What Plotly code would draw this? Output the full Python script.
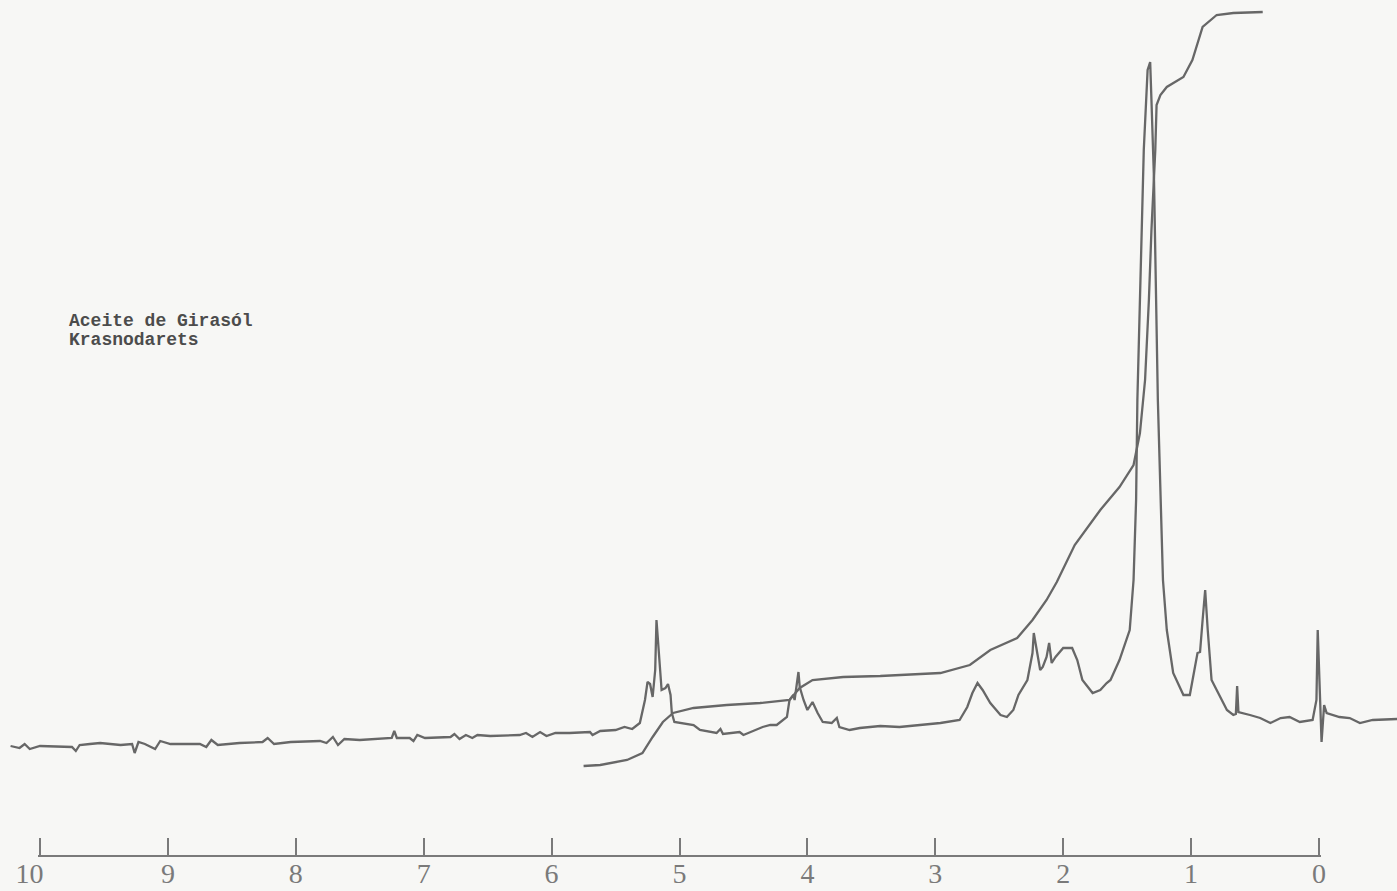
import plotly.graph_objects as go

# 1H NMR spectrum (chemical shift, ppm) and recorder deflection (arbitrary units)
spec_ppm = [10.23, 10.16, 10.12, 10.08, 10.00, 9.84, 9.75, 9.72, 9.69, 9.61, 9.53, 9.37, 9.28, 9.26, 9.23,
            9.18, 9.10, 9.06, 8.98, 8.75, 8.70, 8.66, 8.61, 8.44, 8.26, 8.22, 8.17, 8.04, 7.81, 7.76,
            7.71, 7.67, 7.62, 7.50, 7.34, 7.25, 7.23, 7.21, 7.11, 7.08, 7.05, 6.99, 6.79, 6.76, 6.72,
            6.67, 6.62, 6.58, 6.48, 6.25, 6.20, 6.15, 6.09, 6.04, 5.97, 5.86, 5.70, 5.68, 5.62, 5.50,
            5.43, 5.37, 5.31, 5.27, 5.25, 5.23, 5.21, 5.19, 5.18, 5.16, 5.14, 5.11, 5.09, 5.07, 5.06,
            5.04, 5.00, 4.89, 4.84, 4.71, 4.68, 4.66, 4.53, 4.50, 4.35, 4.29, 4.24, 4.16, 4.14, 4.11,
            4.10, 4.07, 4.06, 4.03, 4.00, 3.96, 3.92, 3.88, 3.81, 3.77, 3.75, 3.67, 3.59, 3.43, 3.28,
            3.12, 2.96, 2.81, 2.75, 2.71, 2.68, 2.67, 2.63, 2.57, 2.49, 2.44, 2.39, 2.35, 2.28, 2.24,
            2.23, 2.20, 2.18, 2.16, 2.13, 2.11, 2.09, 2.06, 2.00, 1.93, 1.89, 1.85, 1.77, 1.71, 1.66,
            1.63, 1.56, 1.48, 1.45, 1.43, 1.42, 1.39, 1.37, 1.34, 1.32, 1.31, 1.29, 1.26, 1.24, 1.22,
            1.19, 1.14, 1.06, 1.01, 0.95, 0.93, 0.91, 0.89, 0.87, 0.84, 0.80, 0.72, 0.67, 0.65, 0.64,
            0.63, 0.54, 0.46, 0.38, 0.30, 0.23, 0.15, 0.05, 0.02, 0.01, -0.01, -0.02, -0.04, -0.06,
            -0.16, -0.24, -0.32, -0.42, -0.61]
spec_int = [145, 143, 147, 142, 145, 144, 144, 140, 146, 147, 148, 146, 147, 138, 149,
            147, 142, 150, 147, 147, 144, 151, 146, 148, 149, 153, 147, 149, 150, 148,
            154, 146, 152, 151, 152, 153, 160, 153, 153, 150, 156, 153, 154, 157, 152,
            156, 153, 156, 155, 156, 158, 154, 159, 155, 158, 158, 159, 156, 160, 161,
            164, 162, 168, 191, 209, 207, 194, 221, 271, 231, 201, 203, 207, 196, 178,
            169, 168, 166, 161, 158, 162, 157, 159, 156, 164, 166, 166, 174, 191, 196,
            191, 219, 204, 191, 181, 189, 178, 169, 168, 173, 164, 161, 163, 165, 164,
            166, 168, 171, 184, 198, 205, 208, 201, 188, 176, 174, 181, 196, 211, 238,
            258, 234, 221, 224, 234, 248, 228, 234, 243, 243, 231, 211, 198, 201, 208,
            211, 231, 261, 311, 391, 491, 641, 741, 821, 829, 791, 711, 491, 391, 311,
            261, 218, 196, 196, 238, 239, 271, 301, 261, 211, 201, 181, 176, 177, 205,
            179, 176, 173, 168, 173, 174, 169, 171, 191, 261, 191, 149, 186, 178,
            174, 173, 168, 171, 172]

# Integral trace
integ_ppm = [5.75, 5.62, 5.41, 5.29, 5.21, 5.13, 5.05, 4.89, 4.63, 4.37, 4.14, 4.06, 3.96, 3.72,
             3.43, 2.96, 2.73, 2.57, 2.36, 2.24, 2.13, 2.05, 1.91, 1.71, 1.56, 1.45, 1.40, 1.36,
             1.33, 1.31, 1.28, 1.27, 1.24, 1.19, 1.06, 0.99, 0.91, 0.85, 0.80, 0.67, 0.44]
integ_int = [125, 126, 131, 138, 154, 169, 178, 183, 186, 188, 191, 203, 211, 214,
             215, 218, 226, 241, 253, 271, 291, 309, 346, 381, 404, 426, 458, 511,
             591, 661, 741, 786, 796, 804, 814, 831, 864, 871, 876, 878, 879]

# Chart scale
scale_ticks = [10, 9, 8, 7, 6, 5, 4, 3, 2, 1, 0]
scale_labels = ["10\u00a0\u00a0\u00a0", "9", "8", "7", "6", "5", "4", "3", "2", "1", "0"]

label_lines = ["Aceite de Girasól", "Krasnodarets"]

W, H = 1397, 891
PX_PER_PPM = 127.9
X0_PX = 1319  # pixel position of 0 ppm
PAD = 0.015   # small overhang so the end ticks are drawn

ink = "#676767"
bg = "#f7f7f5"
fig = go.Figure()
fig.add_trace(go.Scatter(x=spec_ppm, y=spec_int, mode="lines",
                         line=dict(color=ink, width=2.3), hoverinfo="skip"))
fig.add_trace(go.Scatter(x=integ_ppm, y=integ_int, mode="lines",
                         line=dict(color=ink, width=2.3), hoverinfo="skip"))
# carrier for the ppm scale axis
fig.add_trace(go.Scatter(x=[10, 0], y=[-100, -100], xaxis="x2", yaxis="y",
                         mode="lines", line=dict(color="rgba(0,0,0,0)"), hoverinfo="skip"))

for i, txt in enumerate(label_lines):
    fig.add_annotation(text="<b>" + txt + "</b>", xref="paper", yref="paper",
                       x=67 / W, y=(H - 321 - 19 * i) / H, xanchor="left", yanchor="middle",
                       showarrow=False, font=dict(family="Liberation Mono", size=18, color="#4c4c4c"))

fig.update_layout(
    width=W, height=H,
    margin=dict(l=0, r=0, t=0, b=0, autoexpand=False),
    paper_bgcolor=bg, plot_bgcolor="rgba(0,0,0,0)",
    showlegend=False,
    xaxis=dict(range=[X0_PX / PX_PER_PPM, (X0_PX - W) / PX_PER_PPM], visible=False, automargin=False),
    yaxis=dict(range=[0, H], visible=False, automargin=False),
    xaxis2=dict(domain=[(40 - PAD * PX_PER_PPM) / W, (X0_PX + PAD * PX_PER_PPM) / W],
                range=[10 + PAD, -PAD], anchor="free",
                position=(H - 856) / H, automargin=False,
                showline=True, linecolor="#7a7a7a", linewidth=2,
                ticks="inside", ticklen=17, tickwidth=2, tickcolor="#7a7a7a",
                tickvals=scale_ticks, ticktext=scale_labels,
                ticklabelstandoff=-8,
                tickfont=dict(family="Liberation Serif", size=28, color="#7a7a7a"),
                showgrid=False, zeroline=False),
)

fig.write_html("out.html", config={"displayModeBar": False},
               post_script="document.body.style.margin='0';document.body.style.background='%s';" % bg)
